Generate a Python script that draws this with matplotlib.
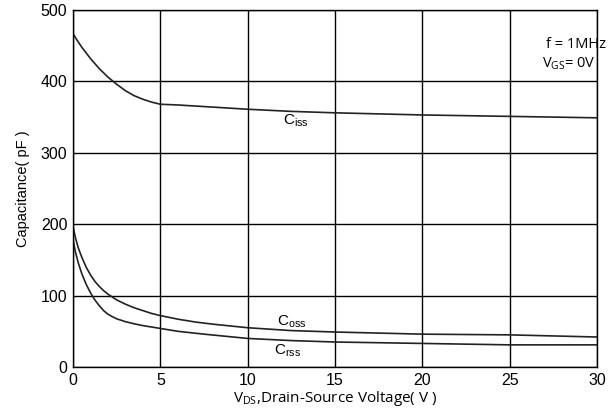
import matplotlib
matplotlib.use("Agg")
import matplotlib.pyplot as plt

plt.rcParams['font.family'] = ['Liberation Sans', 'DejaVu Sans']
plt.rcParams['mathtext.default'] = 'regular'

# capacitance curves (pF vs V)
vds_iss = [0, 0.25, 0.5, 0.75, 1.0, 1.25, 1.5, 1.75, 2.0, 2.5, 3.0, 3.5, 4.0, 4.5, 5.0,
           6, 8, 10, 12.5, 15, 20, 25, 30]
ciss = [467, 457, 448, 440, 432, 425, 418, 412, 406, 396, 387, 380, 375, 371, 368,
        367, 364, 361, 358, 356, 353, 351, 349]

vds_oss = [0, 0.15, 0.3, 0.5, 0.75, 1.0, 1.25, 1.5, 1.75, 2.0, 2.5, 3.0, 3.5, 4.0, 4.5, 5,
           6, 7, 8, 10, 12.5, 15, 20, 25, 30]
coss = [197, 180, 167, 154, 140, 129, 120, 113, 107, 102, 94, 88, 83, 79, 75, 72,
        67, 63, 60, 55, 51, 49, 46, 45, 42]

vds_rss = [0, 0.15, 0.3, 0.5, 0.75, 1.0, 1.25, 1.5, 1.75, 2.0, 2.25, 2.5, 3.0, 3.5, 4.0, 5,
           6, 7.5, 10, 12.5, 15, 20, 25, 30]
crss = [178, 160, 146, 131, 116, 104, 94, 86, 79, 74, 70.5, 67.5, 63.5, 60.5, 58, 54,
        50, 46, 40, 37, 35, 33, 31, 31]

fig = plt.figure(figsize=(6.14, 4.11), dpi=100)
ax = fig.add_axes([73/614, 1-367/411, (597-73)/614, (367-10)/411])

ax.plot(vds_iss, ciss, color='#222222', lw=1.2)
ax.plot(vds_oss, coss, color='#222222', lw=1.2)
ax.plot(vds_rss, crss, color='#222222', lw=1.2)

ax.set_xlim(0, 30)
ax.set_ylim(0, 500)
ax.set_xticks([0, 5, 10, 15, 20, 25, 30])
ax.set_yticks([0, 100, 200, 300, 400, 500])
ax.grid(True, color='black', lw=1.0)
for s in ax.spines.values():
    s.set_color('black')
    s.set_linewidth(1.0)
ax.tick_params(length=0, labelsize=11.5, pad=4)

ax.text(12.0, 345, r'C$_{iss}$', fontsize=11, va='center')
ax.text(11.7, 64, r'C$_{oss}$', fontsize=11, va='center')
ax.text(11.5, 23, r'C$_{rss}$', fontsize=11, va='center')

ax.text(28.8, 452, 'f = 1MHz', fontsize=10.5, ha='center', va='center', family=['Open Sans', 'DejaVu Sans'])
ax.text(28.4, 425, r'V$_{GS}$= 0V', fontsize=10.5, ha='center', va='center', family=['Open Sans', 'DejaVu Sans'])

ax.set_ylabel('Capacitance( pF )', fontsize=10.5, labelpad=8)
ax.set_xlabel(r'V$_{DS}$,Drain-Source Voltage( V )', fontsize=11, labelpad=1,
              family=['Open Sans', 'DejaVu Sans'])

fig.savefig('out.png', dpi=100)
